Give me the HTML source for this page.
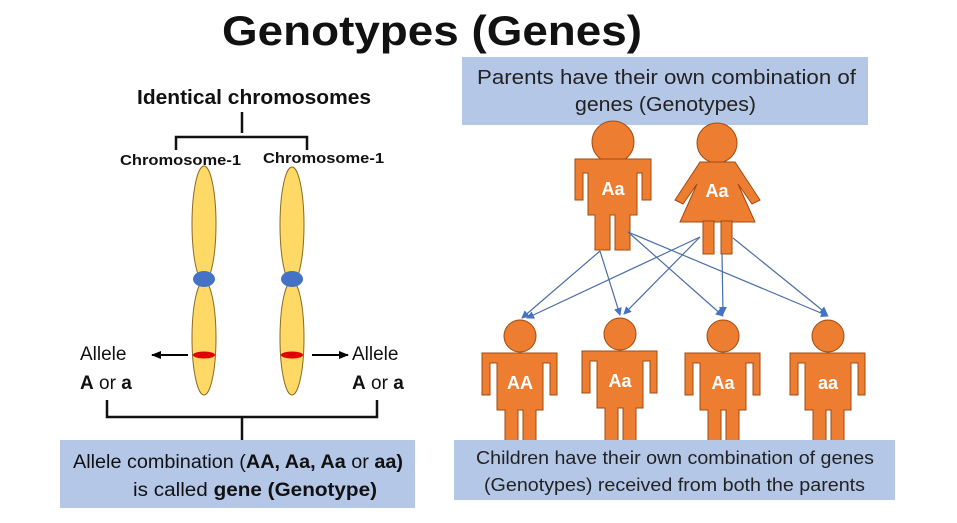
<!DOCTYPE html>
<html><head><meta charset="utf-8"><style>
html,body{margin:0;padding:0;background:#fff;}
svg{display:block;}
text{font-family:"Liberation Sans","DejaVu Sans",sans-serif;}
</style></head><body>
<svg width="957" height="523" viewBox="0 0 957 523" xmlns="http://www.w3.org/2000/svg">
<defs>
<g id="child">
<circle cx="0" cy="0" r="16" fill="#ed7d31" stroke="#a04a10" stroke-width="1"/>
<path d="M-38,17 H37 V59 H30 V27 H23 V74 H16 V110 H3 V74 H-2 V110 H-15 V74 H-23 V27 H-30 V59 H-38 Z" fill="#ed7d31" stroke="#a04a10" stroke-width="1"/>
</g>
<marker id="ah" markerWidth="8" markerHeight="8" refX="7" refY="4" orient="auto" markerUnits="userSpaceOnUse"><path d="M0,0 L8,4 L0,8 Z" fill="#4472c4"/></marker>
<marker id="bh" markerWidth="10" markerHeight="10" refX="9" refY="5" orient="auto" markerUnits="userSpaceOnUse"><path d="M0,1 L10,5 L0,9 Z" fill="#000"/></marker>
</defs>

<text x="222" y="45" font-size="42" font-weight="bold" fill="#111" textLength="420" lengthAdjust="spacingAndGlyphs">Genotypes (Genes)</text>

<rect x="462" y="57" width="406" height="68" fill="#b4c7e7"/>
<text x="477" y="84" font-size="20" fill="#222" textLength="379" lengthAdjust="spacingAndGlyphs">Parents have their own combination of</text>
<text x="575" y="111" font-size="20" fill="#222" textLength="181" lengthAdjust="spacingAndGlyphs">genes (Genotypes)</text>

<text x="137" y="104" font-size="20" font-weight="bold" fill="#111" textLength="234" lengthAdjust="spacingAndGlyphs">Identical chromosomes</text>
<path d="M242,112 V133 M176,150 V137 H307 V150" fill="none" stroke="#111" stroke-width="2.5"/>
<text x="120" y="165" font-size="14.5" font-weight="bold" fill="#111" textLength="121" lengthAdjust="spacingAndGlyphs">Chromosome-1</text>
<text x="263" y="163" font-size="14.5" font-weight="bold" fill="#111" textLength="121" lengthAdjust="spacingAndGlyphs">Chromosome-1</text>

<g stroke="#8a6a20" stroke-width="1" fill="#ffd966">
<ellipse cx="204" cy="224" rx="12" ry="58"/>
<ellipse cx="204" cy="338" rx="12" ry="57"/>
<ellipse cx="292" cy="225" rx="12" ry="58"/>
<ellipse cx="292" cy="338" rx="12" ry="57"/>
</g>
<ellipse cx="204" cy="279" rx="11" ry="8" fill="#4472c4"/>
<ellipse cx="292" cy="279" rx="11" ry="8" fill="#4472c4"/>
<ellipse cx="204" cy="355" rx="11" ry="3.5" fill="#e00000"/>
<ellipse cx="292" cy="355" rx="11" ry="3.5" fill="#e00000"/>
<line x1="188" y1="355" x2="152" y2="355" stroke="#000" stroke-width="2" marker-end="url(#bh)"/>
<line x1="312" y1="355" x2="348" y2="355" stroke="#000" stroke-width="2" marker-end="url(#bh)"/>
<text x="80" y="360" font-size="19" fill="#111">Allele</text>
<text x="80" y="389" font-size="19" fill="#111"><tspan font-weight="bold">A</tspan> or <tspan font-weight="bold">a</tspan></text>
<text x="352" y="360" font-size="19" fill="#111">Allele</text>
<text x="352" y="389" font-size="19" fill="#111"><tspan font-weight="bold">A</tspan> or <tspan font-weight="bold">a</tspan></text>
<path d="M107,400 V417 H377 V400 M242,417 V440" fill="none" stroke="#111" stroke-width="2.5"/>

<rect x="60" y="440" width="355" height="68" fill="#b4c7e7"/>
<text x="73" y="468" font-size="19" fill="#111" textLength="330" lengthAdjust="spacingAndGlyphs">Allele combination (<tspan font-weight="bold">AA, Aa, Aa</tspan> or <tspan font-weight="bold">aa)</tspan></text>
<text x="133" y="496" font-size="19" fill="#111" textLength="244" lengthAdjust="spacingAndGlyphs">is called <tspan font-weight="bold">gene (Genotype)</tspan></text>

<circle cx="613" cy="142" r="21" fill="#ed7d31" stroke="#a04a10"/>
<path d="M575,159 H651 V200 H642 V173 H637 V215 H630 V250 H615 V215 H610 V250 H595 V215 H588 V173 H583 V200 H575 Z" fill="#ed7d31" stroke="#a04a10"/>
<text x="613" y="195" font-size="18" font-weight="bold" fill="#fff" text-anchor="middle">Aa</text>

<circle cx="717" cy="143" r="20" fill="#ed7d31" stroke="#a04a10"/>
<path d="M700,162 H735 L760,200 L752,204 L738,184 L755,222 H680 L697,184 L683,204 L675,200 Z" fill="#ed7d31" stroke="#a04a10"/>
<rect x="703" y="221" width="11" height="33" fill="#ed7d31" stroke="#a04a10"/>
<rect x="721" y="221" width="11" height="33" fill="#ed7d31" stroke="#a04a10"/>
<text x="717" y="197" font-size="18" font-weight="bold" fill="#fff" text-anchor="middle">Aa</text>

<g stroke="#4a6fa5" stroke-width="1.2" fill="none" marker-end="url(#ah)">
<line x1="600" y1="251" x2="522" y2="318"/>
<line x1="600" y1="251" x2="620" y2="315"/>
<line x1="628" y1="232" x2="723" y2="316"/>
<line x1="628" y1="232" x2="828" y2="316"/>
<line x1="700" y1="237" x2="527" y2="318"/>
<line x1="700" y1="237" x2="624" y2="314"/>
<line x1="722" y1="253" x2="723" y2="314"/>
<line x1="733" y1="238" x2="827" y2="314"/>
</g>

<use href="#child" x="520" y="336"/>
<use href="#child" x="620" y="334"/>
<use href="#child" x="723" y="336"/>
<use href="#child" x="828" y="336"/>
<g font-size="18" font-weight="bold" fill="#fff" text-anchor="middle">
<text x="520" y="389">AA</text>
<text x="620" y="387">Aa</text>
<text x="723" y="389">Aa</text>
<text x="828" y="389">aa</text>
</g>

<rect x="454" y="440" width="441" height="60" fill="#b4c7e7"/>
<text x="476" y="464" font-size="18" fill="#222" textLength="398" lengthAdjust="spacingAndGlyphs">Children have their own combination of genes</text>
<text x="484" y="491" font-size="18" fill="#222" textLength="381" lengthAdjust="spacingAndGlyphs">(Genotypes) received from both the parents</text>
</svg>
</body></html>
